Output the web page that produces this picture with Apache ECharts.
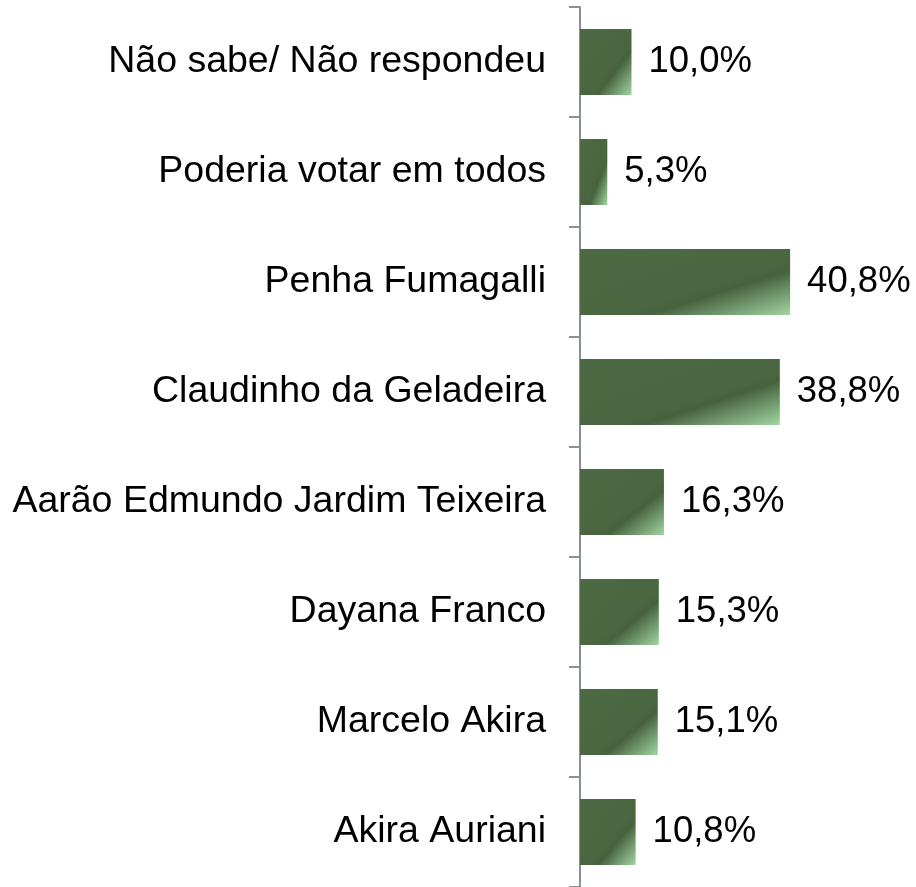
<!DOCTYPE html>
<html>
<head>
<meta charset="utf-8">
<script src="https://cdn.jsdelivr.net/npm/echarts@6/dist/echarts.min.js"></script>
<style>
  html, body { margin: 0; padding: 0; background: #fff; }
  #chart { width: 916px; height: 887px; }
</style>
</head>
<body>
<div id="chart"></div>
<script>
// categories listed bottom to top
const categories = [
  'Akira Auriani',
  'Marcelo Akira',
  'Dayana Franco',
  'Aarão Edmundo Jardim Teixeira',
  'Claudinho da Geladeira',
  'Penha Fumagalli',
  'Poderia votar em todos',
  'Não sabe/ Não respondeu'
]
const values = [10.8, 15.1, 15.3, 16.3, 38.8, 40.8, 5.3, 10.0]

const fmt = v => v.toFixed(1).replace('.', ',') + '%'

// office style gradient: isolines run along the bar's anti-diagonal
const stops = [
  { offset: 0, color: '#4b6a43' },
  { offset: 0.6, color: '#4a6640' },
  { offset: 0.66, color: '#46613e' },
  { offset: 1, color: '#a2d6a2' }
]
const makeGradient = (w, h) => {
  const s = h * h + w * w
  return new echarts.graphic.LinearGradient(0, 0, 2 * h * h / s, 2 * w * w / s, stops)
}

const chart = echarts.init(document.getElementById('chart'))

const option = {
  animation: false,
  grid: { left: 580, right: 27, top: 7, bottom: 0 },
  xAxis: {
    type: 'value',
    min: 0,
    max: 60,
    show: false
  },
  yAxis: {
    type: 'category',
    data: categories,
    axisLine: { show: true, lineStyle: { color: '#8a9098', width: 2 } },
    axisTick: { show: true, alignWithLabel: false, length: 11, lineStyle: { color: '#8a9098', width: 2 } },
    axisLabel: {
      margin: 34,
      color: '#000',
      fontFamily: 'Liberation Sans, Arial, sans-serif',
      fontSize: 37.5
    },
    splitLine: { show: false }
  },
  series: [{
    type: 'bar',
    barWidth: '60%',
    data: values,
    itemStyle: { color: '#4a6640' },
    label: {
      show: true,
      position: 'right',
      distance: 17,
      color: '#000',
      fontFamily: 'Liberation Sans, Arial, sans-serif',
      fontSize: 36.5,
      formatter: p => fmt(p.value)
    }
  }]
}
chart.setOption(option)

// second pass: per-bar gradient sized from the axis scales
const x0 = chart.convertToPixel({ xAxisIndex: 0 }, 0)
const band = Math.abs(chart.convertToPixel({ yAxisIndex: 0 }, categories[1]) -
  chart.convertToPixel({ yAxisIndex: 0 }, categories[0]))
const barH = band * 0.6
chart.setOption({
  series: [{
    data: values.map(v => ({
      value: v,
      itemStyle: { color: makeGradient(chart.convertToPixel({ xAxisIndex: 0 }, v) - x0, barH) }
    }))
  }]
})
</script>
</body>
</html>
